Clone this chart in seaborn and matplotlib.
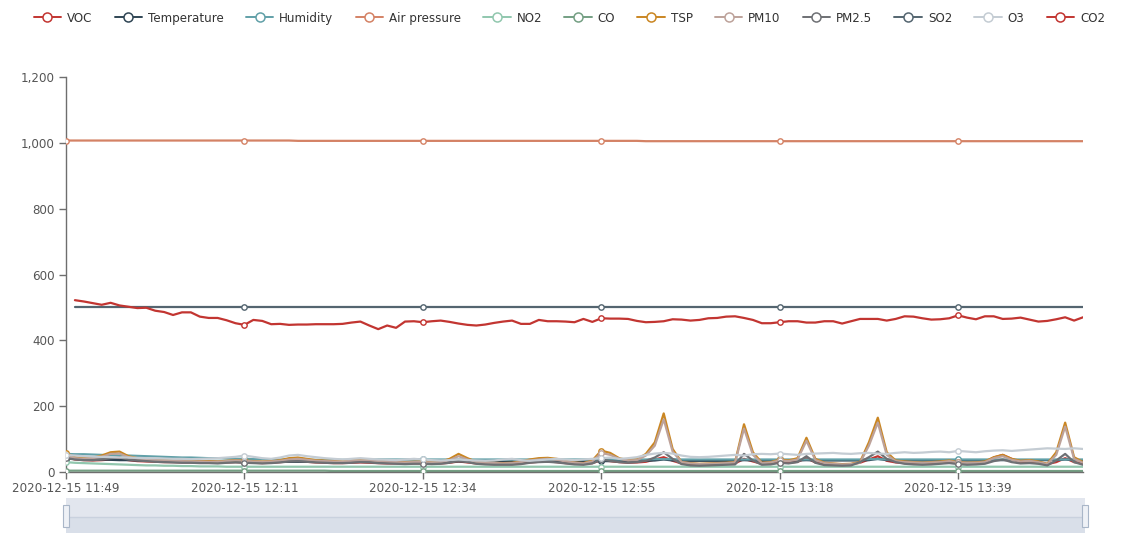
import numpy as np
import pandas as pd
import matplotlib
matplotlib.use("Agg")
import matplotlib.pyplot as plt
import seaborn as sns
from matplotlib.lines import Line2D
from matplotlib.patches import Rectangle
from matplotlib.ticker import FuncFormatter

# ---------------------------------------------------------------- data
series_names = ["VOC", "Temperature", "Humidity", "Air pressure", "NO2", "CO",
                "TSP", "PM10", "PM2.5", "SO2", "O3", "CO2"]
series_colors = ["#c23531", "#2f4554", "#61a0a8", "#d48265", "#91c7ae", "#749f83",
                 "#ca8622", "#bda29a", "#6e7074", "#546570", "#c4ccd3", "#c23531"]

tick_labels = ["2020-12-15 11:49", "2020-12-15 12:11", "2020-12-15 12:34",
               "2020-12-15 12:55", "2020-12-15 13:18", "2020-12-15 13:39"]
tick_step = 20

voc = [45, 38, 36, 35, 36, 38, 40, 36, 33, 32,
       31, 30, 30, 29, 29, 28, 28, 28, 29, 30,
       29, 28, 27, 28, 30, 32, 33, 31, 29, 28,
       27, 27, 28, 29, 28, 27, 26, 26, 25, 26,
       26, 25, 26, 28, 32, 29, 26, 25, 24, 24,
       24, 26, 29, 31, 32, 30, 27, 25, 24, 27,
       36, 33, 30, 28, 29, 31, 38, 45, 34, 26,
       24, 23, 24, 25, 25, 26, 40, 32, 25, 26,
       29, 28, 31, 42, 29, 25, 24, 23, 24, 28,
       38, 48, 34, 29, 27, 26, 25, 26, 27, 29,
       27, 26, 27, 30, 44, 52, 40, 30, 29, 27,
       24, 30, 42, 30, 26]

temperature = [40, 40, 39, 38, 38, 37, 36, 36, 35, 35,
               34, 34, 33, 33, 32, 32, 32, 31, 31, 31,
               30, 30, 30, 30, 31, 31, 31, 31, 31, 31,
               31, 31, 31, 31, 31, 31, 31, 31, 31, 31,
               32, 32, 32, 32, 32, 32, 32, 32, 32, 32,
               32, 32, 32, 32, 32, 32, 32, 32, 33, 33,
               33, 33, 33, 33, 33, 34, 35, 38, 35, 34,
               34, 34, 34, 34, 34, 34, 36, 35, 34, 34,
               35, 35, 35, 36, 35, 35, 35, 35, 35, 35,
               36, 40, 36, 35, 35, 35, 35, 35, 35, 35,
               35, 35, 35, 35, 36, 36, 36, 36, 36, 36,
               36, 36, 38, 36, 36]

humidity = [55, 54, 54, 53, 52, 51, 50, 50, 49, 48,
            47, 46, 45, 44, 44, 43, 42, 42, 41, 40,
            40, 39, 39, 38, 38, 38, 38, 37, 37, 37,
            37, 37, 37, 37, 37, 38, 38, 38, 38, 38,
            38, 38, 38, 38, 38, 38, 38, 38, 38, 38,
            38, 38, 38, 38, 38, 38, 38, 38, 38, 38,
            38, 38, 38, 38, 38, 38, 39, 39, 39, 38,
            38, 38, 38, 38, 38, 38, 38, 38, 38, 38,
            38, 38, 38, 38, 38, 38, 38, 38, 38, 38,
            39, 39, 38, 38, 38, 38, 38, 38, 38, 38,
            38, 38, 38, 38, 38, 38, 38, 38, 38, 38,
            38, 38, 38, 38, 38]

air_pressure = [1007, 1007, 1007, 1007, 1007, 1007, 1007, 1007, 1007, 1007,
                1007, 1007, 1007, 1007, 1007, 1007, 1007, 1007, 1007, 1007,
                1007, 1007, 1007, 1007, 1007, 1007, 1006, 1006, 1006, 1006,
                1006, 1006, 1006, 1006, 1006, 1006, 1006, 1006, 1006, 1006,
                1006, 1006, 1006, 1006, 1006, 1006, 1006, 1006, 1006, 1006,
                1006, 1006, 1006, 1006, 1006, 1006, 1006, 1006, 1006, 1006,
                1006, 1006, 1006, 1006, 1006, 1005, 1005, 1005, 1005, 1005,
                1005, 1005, 1005, 1005, 1005, 1005, 1005, 1005, 1005, 1005,
                1005, 1005, 1005, 1005, 1005, 1005, 1005, 1005, 1005, 1005,
                1005, 1005, 1005, 1005, 1005, 1005, 1005, 1005, 1005, 1005,
                1005, 1005, 1005, 1005, 1005, 1005, 1005, 1005, 1005, 1005,
                1005, 1005, 1005, 1005, 1005]

no2 = [30, 28, 27, 26, 25, 24, 23, 22, 21, 20,
       20, 19, 19, 18, 18, 17, 17, 17, 16, 16,
       16, 16, 16, 16, 16, 16, 16, 16, 16, 16,
       16, 16, 16, 16, 16, 16, 16, 16, 16, 16,
       16, 16, 16, 16, 16, 16, 16, 16, 16, 16,
       16, 16, 16, 16, 16, 16, 16, 16, 16, 16,
       16, 16, 16, 16, 16, 16, 16, 16, 16, 16,
       16, 16, 16, 16, 16, 16, 16, 16, 16, 16,
       16, 16, 16, 16, 16, 16, 16, 16, 16, 16,
       16, 16, 16, 16, 16, 16, 16, 16, 16, 16,
       16, 16, 16, 16, 16, 16, 16, 16, 16, 16,
       16, 16, 16, 16, 16]

co = [4, 4, 4, 4, 4, 4, 4, 4, 4, 4,
      4, 4, 4, 4, 4, 4, 4, 4, 4, 4,
      4, 4, 4, 4, 4, 4, 4, 4, 4, 4,
      3, 3, 3, 3, 3, 3, 3, 3, 3, 3,
      3, 3, 3, 3, 3, 3, 3, 3, 3, 3,
      3, 3, 3, 3, 3, 3, 3, 3, 3, 3,
      3, 3, 3, 3, 3, 3, 3, 3, 3, 3,
      3, 3, 3, 3, 3, 3, 3, 3, 3, 3,
      3, 3, 3, 3, 3, 3, 3, 3, 3, 3,
      3, 3, 3, 3, 3, 3, 3, 3, 3, 3,
      3, 3, 3, 3, 3, 3, 3, 3, 3, 3,
      3, 3, 3, 3, 3]

tsp = [58, 45, 42, 44, 50, 60, 62, 48, 42, 40,
       38, 37, 36, 35, 34, 33, 33, 32, 34, 36,
       35, 33, 32, 33, 36, 42, 44, 40, 36, 35,
       34, 33, 36, 38, 37, 34, 33, 32, 30, 31,
       32, 30, 31, 40, 55, 42, 31, 29, 28, 27,
       28, 32, 38, 42, 43, 40, 34, 29, 27, 35,
       65, 58, 42, 36, 38, 55, 90, 178, 70, 30,
       27, 25, 26, 27, 28, 30, 145, 60, 28, 30,
       38, 35, 42, 104, 40, 28, 26, 24, 25, 30,
       90, 165, 60, 35, 32, 30, 28, 30, 32, 35,
       30, 28, 29, 32, 45, 52, 40, 34, 36, 32,
       25, 60, 150, 45, 30]

pm10 = [50, 42, 40, 42, 46, 55, 56, 45, 40, 38,
        36, 35, 34, 33, 32, 32, 31, 31, 33, 35,
        34, 32, 31, 32, 34, 38, 40, 37, 34, 33,
        32, 31, 34, 35, 35, 33, 31, 30, 29, 30,
        30, 29, 30, 36, 48, 38, 30, 28, 27, 26,
        27, 30, 35, 38, 40, 37, 32, 28, 26, 32,
        58, 52, 40, 35, 36, 50, 80, 160, 62, 30,
        26, 24, 25, 26, 27, 29, 132, 52, 27, 29,
        35, 33, 38, 95, 36, 27, 25, 23, 24, 28,
        80, 150, 52, 33, 30, 29, 27, 29, 30, 33,
        29, 27, 28, 30, 42, 48, 37, 32, 34, 30,
        24, 52, 138, 40, 28]

pm25 = [42, 38, 36, 36, 38, 42, 44, 38, 35, 33,
        31, 30, 29, 28, 28, 27, 27, 26, 28, 29,
        28, 27, 26, 27, 29, 32, 33, 31, 29, 28,
        27, 27, 28, 30, 29, 27, 26, 25, 24, 25,
        25, 24, 25, 28, 34, 30, 25, 23, 22, 22,
        22, 24, 28, 30, 31, 29, 26, 23, 22, 26,
        38, 34, 30, 28, 30, 34, 44, 60, 40, 24,
        20, 19, 20, 21, 22, 23, 55, 35, 22, 23,
        28, 26, 30, 48, 28, 21, 20, 19, 20, 30,
        45, 62, 40, 30, 25, 23, 22, 23, 25, 27,
        24, 22, 23, 25, 33, 38, 30, 26, 27, 25,
        20, 35, 55, 30, 22]

so2 = [np.nan, 500, 500, 500, 500, 500, 500, 500, 500, 500,
       500, 500, 500, 500, 500, 500, 500, 500, 500, 500,
       500, 500, 500, 500, 500, 500, 500, 500, 500, 500,
       500, 500, 500, 500, 500, 500, 500, 500, 500, 500,
       500, 500, 500, 500, 500, 500, 500, 500, 500, 500,
       500, 500, 500, 500, 500, 500, 500, 500, 500, 500,
       500, 500, 500, 500, 500, 500, 500, 500, 500, 500,
       500, 500, 500, 500, 500, 500, 500, 500, 500, 500,
       500, 500, 500, 500, 500, 500, 500, 500, 500, 500,
       500, 500, 500, 500, 500, 500, 500, 500, 500, 500,
       500, 500, 500, 500, 500, 500, 500, 500, 500, 500,
       500, 500, 500, 500, 500]

o3 = [52, 50, 48, 47, 46, 45, 44, 44, 43, 42,
      42, 41, 40, 40, 39, 40, 41, 42, 44, 46,
      50, 46, 42, 40, 44, 50, 52, 48, 45, 42,
      40, 38, 40, 42, 40, 38, 37, 36, 38, 40,
      38, 36, 35, 36, 38, 36, 35, 34, 35, 38,
      40, 36, 34, 36, 38, 40, 38, 36, 38, 40,
      42, 44, 40, 42, 45, 52, 56, 58, 56, 50,
      46, 45, 46, 48, 50, 52, 50, 54, 55, 54,
      56, 54, 52, 55, 56, 57, 58, 56, 55, 57,
      58, 56, 55, 58, 60, 58, 59, 61, 62, 60,
      64, 62, 60, 63, 65, 66, 64, 66, 68, 70,
      72, 71, 70, 72, 70]

co2 = [np.nan, 522, 518, 513, 508, 514, 506, 502, 498, 499,
       490, 486, 477, 485, 485, 472, 468, 468, 461, 452,
       447, 462, 459, 449, 450, 447, 448, 448, 449, 449,
       449, 450, 454, 457, 445, 434, 445, 438, 457, 458,
       455, 458, 460, 456, 451, 447, 445, 448, 453, 457,
       460, 450, 450, 462, 458, 458, 457, 455, 465, 456,
       467, 466, 466, 465, 459, 455, 456, 458, 464, 463,
       460, 462, 467, 468, 472, 473, 468, 462, 452, 452,
       455, 458, 458, 454, 454, 458, 458, 451, 458, 465,
       465, 465, 460, 465, 473, 472, 467, 463, 464, 467,
       476, 469, 464, 473, 473, 465, 466, 469, 463, 457,
       459, 464, 470, 460, 470]

series_values = [voc, temperature, humidity, air_pressure, no2, co,
                 tsp, pm10, pm25, so2, o3, co2]

# ------------------------------------------------------------- styling
sns.set_style("white")
plt.rcParams["font.family"] = ["DejaVu Sans"]

W, H = 1121, 533
fig = plt.figure(figsize=(W / 100, H / 100), dpi=100)

# plot area in pixel coordinates
gx0, gx1, gy0, gy1 = 66, 1083, 77, 472
ax = fig.add_axes([gx0 / W, 1 - gy1 / H, (gx1 - gx0) / W, (gy1 - gy0) / H])

n_points = len(co2)
idx = np.arange(n_points)
mark_idx = list(range(0, n_points, tick_step))

frames = []
for name, vals in zip(series_names, series_values):
    frames.append(pd.DataFrame({"idx": idx, "value": np.asarray(vals, float), "series": name}))
df = pd.concat(frames, ignore_index=True)

for k, (name, color) in enumerate(zip(series_names, series_colors)):
    sub = df[df["series"] == name].dropna()
    sns.lineplot(data=sub, x="idx", y="value", color=color, lw=1.6,
                 estimator=None, sort=True, ax=ax, zorder=2 + k * 0.1,
                 solid_joinstyle="round", solid_capstyle="round")
    pts = sub[sub["idx"].isin(mark_idx)]
    sns.scatterplot(data=pts, x="idx", y="value", s=15, marker="o",
                    facecolor="white", edgecolor=color, linewidth=1.0,
                    ax=ax, zorder=3 + k * 0.1, legend=False)

ax.set_xlim(0, n_points - 1)
ax.set_ylim(0, 1200)
ax.set_yticks(np.arange(0, 1201, 200))
ax.yaxis.set_major_formatter(FuncFormatter(lambda v, p: f"{int(v):,}"))
ax.set_xticks(mark_idx)
ax.set_xticklabels(tick_labels)
ax.set_xlabel("")
ax.set_ylabel("")
ax.grid(False)

for side in ("top", "right"):
    ax.spines[side].set_visible(False)
for side in ("left", "bottom"):
    ax.spines[side].set_color("#6e6e6e")
    ax.spines[side].set_linewidth(1.0)

ax.tick_params(axis="both", which="major", direction="out", length=5,
               width=1.0, color="#6e6e6e", labelsize=8.6, labelcolor="#555555",
               left=True, bottom=True)
ax.tick_params(axis="x", pad=2)
ax.tick_params(axis="y", pad=3)

# ---------------------------------------------------------------- legend
handles = [Line2D([], [], color=c, lw=1.4, marker="o", markersize=6.5,
                  markerfacecolor="white", markeredgecolor=c, markeredgewidth=1.1)
           for c in series_colors]
fig.legend(handles, series_names, loc="center", ncol=len(series_names),
           bbox_to_anchor=(0.508, 1 - 18 / H), frameon=False, fontsize=8.6,
           handlelength=2.3, handletextpad=0.5, columnspacing=1.85,
           labelcolor="#333333")

# ------------------------------------------------------ range slider bar
sx0, sx1, sy0 = 66, 1085, 498
sax = fig.add_axes([sx0 / W, 0, (sx1 - sx0) / W, (H - sy0) / H])
sax.set_xlim(0, 1)
sax.set_ylim(0, H - sy0)
sax.axis("off")
sax.add_patch(Rectangle((0, 0), 1, H - sy0, facecolor="#d9dfe9", edgecolor="none"))
sax.add_patch(Rectangle((0, 16), 1, H - sy0 - 16, facecolor="#e2e6ee", edgecolor="none"))
sax.plot([0, 1], [16, 16], color="#c9d1de", lw=1.0)
for hx in (sx0, sx1):
    fig.patches.append(Rectangle(((hx - 3) / W, (H - 527) / H), 6 / W, 22 / H,
                                 transform=fig.transFigure, facecolor="#eef1f6",
                                 edgecolor="#a9b6c8", lw=0.8, zorder=5))

fig.savefig("out.png", dpi=100)
